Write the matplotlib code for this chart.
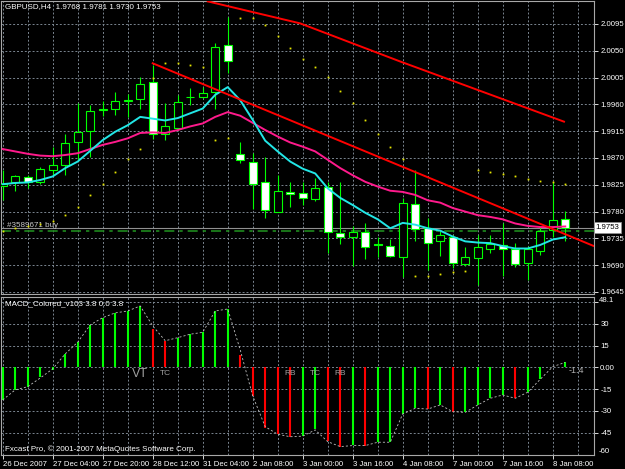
import matplotlib
matplotlib.use("Agg")
import matplotlib.pyplot as plt
import numpy as np

# GBPUSD H4 candles (bar 0 = 26 Dec 2007)
opens = [1.9823, 1.9829, 1.9838, 1.9830, 1.9850, 1.9859, 1.9897, 1.9915, 1.9951, 1.9952,
         1.9965, 1.9969, 1.9998, 1.9910, 1.9921, 1.9972, 1.9973, 1.9981, 2.0059, 1.9876,
         1.9864, 1.9829, 1.9780, 1.9813, 1.9811, 1.9801, 1.9821, 1.9744, 1.9737, 1.9745,
         1.9725, 1.9722, 1.9703, 1.9792, 1.9752, 1.9731, 1.9738, 1.9692, 1.9702, 1.9718,
         1.9724, 1.9718, 1.9693, 1.9714, 1.9749, 1.9768]
highs = [1.9850, 1.9841, 1.9841, 1.9855, 1.9888, 1.9910, 1.9962, 1.9959, 1.9966, 1.9980,
         1.9977, 2.0006, 2.0026, 1.9962, 1.9975, 1.9987, 1.9989, 2.0063, 2.0107, 1.9897,
         1.9878, 1.9872, 1.9841, 1.9830, 1.9830, 1.9836, 1.9830, 1.9829, 1.9756, 1.9760,
         1.9738, 1.9734, 1.9803, 1.9849, 1.9770, 1.9747, 1.9741, 1.9721, 1.9741, 1.9741,
         1.9760, 1.9727, 1.9722, 1.9754, 1.9829, 1.9781]
lows = [1.9799, 1.9815, 1.9820, 1.9826, 1.9841, 1.9841, 1.9867, 1.9872, 1.9941, 1.9942,
        1.9939, 1.9953, 1.9902, 1.9901, 1.9920, 1.9959, 1.9971, 1.9953, 2.0012, 1.9861,
        1.9784, 1.9770, 1.9779, 1.9787, 1.9791, 1.9797, 1.9711, 1.9725, 1.9689, 1.9700,
        1.9704, 1.9703, 1.9670, 1.9731, 1.9682, 1.9706, 1.9686, 1.9688, 1.9657, 1.9710,
        1.9671, 1.9687, 1.9665, 1.9707, 1.9738, 1.9730]
closes = [1.9826, 1.9839, 1.9830, 1.9851, 1.9858, 1.9895, 1.9914, 1.9949, 1.9952, 1.9965,
          1.9967, 1.9995, 1.9911, 1.9923, 1.9964, 1.9973, 1.9979, 2.0057, 2.0033, 1.9866,
          1.9826, 1.9782, 1.9815, 1.9809, 1.9803, 1.9820, 1.9745, 1.9737, 1.9745, 1.9721,
          1.9724, 1.9705, 1.9794, 1.9750, 1.9728, 1.9740, 1.9693, 1.9703, 1.9720, 1.9725,
          1.9717, 1.9692, 1.9717, 1.9748, 1.9766, 1.9753]

# moving averages as drawn (cyan fast, pink slow)
ma_fast = [1.9826, 1.9828, 1.9829, 1.9833, 1.9839, 1.9853, 1.9864, 1.9882, 1.9900, 1.9914,
           1.9925, 1.9939, 1.9936, 1.9933, 1.9937, 1.9945, 1.9953, 1.9976, 1.9989, 1.9967,
           1.9934, 1.9899, 1.9881, 1.9864, 1.9852, 1.9844, 1.9819, 1.9803, 1.9791, 1.9778,
           1.9767, 1.9752, 1.9761, 1.9758, 1.9752, 1.9748, 1.9738, 1.9730, 1.9728, 1.9727,
           1.9722, 1.9718, 1.9718, 1.9724, 1.9733, 1.9737]
ma_slow = [1.9885, 1.9881, 1.9877, 1.9874, 1.9873, 1.9875, 1.9878, 1.9885, 1.9892, 1.9897,
           1.9903, 1.9912, 1.9913, 1.9912, 1.9917, 1.9923, 1.9928, 1.9939, 1.9947, 1.9941,
           1.9929, 1.9917, 1.9906, 1.9896, 1.9889, 1.9881, 1.9867, 1.9853, 1.9841, 1.9830,
           1.9822, 1.9815, 1.9813, 1.9808, 1.9799, 1.9795, 1.9786, 1.9780, 1.9774, 1.9771,
           1.9767, 1.9760, 1.9756, 1.9754, 1.9754, 1.9755]

# parabolic SAR dots
sar = [1.9748, 1.9752, 1.9755, 1.9759, 1.9765, 1.9774, 1.9788, 1.9808, 1.9826, 1.9846,
       1.9868, 1.9885, 2.0004, 2.0029, 2.0029, 2.0026, 2.0023, 1.9900, 1.9903, 2.0105,
       2.0105, 2.0093, 2.0074, 2.0054, 2.0037, 2.0022, 2.0006, 1.9983, 1.9962, 1.9934,
       1.9910, 1.9889, 1.9868, 1.9671, 1.9671, 1.9675, 1.9678, 1.9681, 1.9850, 1.9846,
       1.9843, 1.9839, 1.9834, 1.9831, 1.9829, 1.9826]

# MACD_Colored histogram and its dashed line
macd = [-22.5, -15.6, -13.4, -6.9, -1.8, 9.0, 17.2, 29.2, 34.2, 37.7,
        38.8, 42.3, 26.2, 18.3, 20.4, 22.8, 24.1, 38.8, 40.2, 8.3,
        -19.8, -41.7, -46.2, -47.9, -47.5, -42.3, -50.8, -54.7, -53.6, -54.0,
        -51.7, -51.5, -32.2, -28.3, -28.8, -26.0, -30.8, -30.6, -26.0, -21.4,
        -19.1, -21.4, -17.2, -8.3, 0.4, 3.4]
signal = [-22.5, -15.6, -13.4, -7.4, -1.1, 9.2, 17.3, 29.2, 34.2, 37.5,
          38.8, 42.3, 28.5, 18.3, 20.4, 22.8, 24.1, 38.8, 40.2, 12.0,
          -19.8, -41.0, -46.2, -47.9, -47.5, -43.2, -51.3, -54.7, -54.0, -54.0,
          -51.7, -51.7, -32.2, -28.3, -28.8, -26.0, -30.6, -31.1, -26.0, -21.4,
          -19.1, -21.4, -17.2, -8.3, 0.4, 3.4]

# trend lines drawn on the chart (bar index, price)
trend1_x = [12.0, 47.3]
trend1_y = [2.0029, 1.9722]
trend2_x = [16.4, 23.8, 31.8, 44.9]
trend2_y = [2.0133, 2.0096, 2.0032, 1.9931]

price_ticks = [2.0095, 2.0050, 2.0005, 1.9960, 1.9915, 1.9870, 1.9825, 1.9780, 1.9735, 1.9690, 1.9645]
macd_ticks = [45, 30, 15, 0, -15, -30, -45]
macd_labels = ["", "30", "15", "0.00", "-15", "-30", "-45"]
date_labels = ["26 Dec 2007", "27 Dec 04:00", "27 Dec 20:00", "28 Dec 12:00", "31 Dec 04:00",
               "2 Jan 08:00", "3 Jan 00:00", "3 Jan 16:00", "4 Jan 08:00", "7 Jan 00:00",
               "7 Jan 16:00", "8 Jan 08:00"]
marks = [("VT", 11, 9), ("TC", 13, 6), ("RB", 23, 6), ("TC", 25, 6), ("RB", 27, 6)]

bid = 1.9753
order_price = 1.9748

LIME = "#00ff00"
GRID = "#7a8590"
FG = "white"

plt.rcParams["font.family"] = ["Liberation Sans", "DejaVu Sans"]
plt.rcParams["font.size"] = 5.6

W, H = 625, 469
fig = plt.figure(figsize=(W / 100, H / 100), dpi=100, facecolor="black")
ax = fig.add_axes([1 / W, 1 - 294 / H, 593 / W, 293 / H], facecolor="black")
ax2 = fig.add_axes([1 / W, 1 - 455 / H, 593 / W, 158.5 / H], facecolor="black")

x = np.arange(len(opens))
o, h, l, c = (np.array(v) for v in (opens, highs, lows, closes))
xlim = (-0.136, 47.3)

# ---- main price window ----
for p in price_ticks:
    ax.axhline(p, color=GRID, lw=0.7, ls=(0, (2, 2)), zorder=1)
for i in range(0, 48, 2):
    ax.axvline(i, color=GRID, lw=0.7, ls=(0, (2, 2)), zorder=1)

ax.axhline(bid, color="#909090", lw=0.8, zorder=2)
ax.axhline(order_price, color="#1e8a1e", lw=1.2, ls=(0, (6, 3, 2, 3)), zorder=2)

ax.vlines(x, l, h, color=LIME, lw=0.8, zorder=3)
bull = c >= o
bottom = np.minimum(o, c)
height = np.abs(c - o)
ax.bar(x[bull], height[bull], bottom=bottom[bull], width=0.62,
       facecolor="black", edgecolor=LIME, lw=0.8, zorder=4)
ax.bar(x[~bull], height[~bull], bottom=bottom[~bull], width=0.62,
       facecolor="white", edgecolor=LIME, lw=0.8, zorder=4)

ax.plot(x, ma_slow, color="#ff1a8c", lw=1.4, zorder=5)
ax.plot(x, ma_fast, color="#22e6e6", lw=1.4, zorder=5)
ax.plot(trend1_x, trend1_y, color="#ff0000", lw=1.4, zorder=6)
ax.plot(trend2_x, trend2_y, color="#ff0000", lw=1.4, zorder=6)
ax.plot(x, sar, ls="none", marker="s", ms=1.3, mew=0, color="#e6e600", zorder=7)

ax.set_xlim(*xlim)
ax.set_ylim(1.96416, 2.01336)
ax.yaxis.tick_right()
ax.set_yticks(price_ticks)
ax.set_yticklabels([f"{p:.4f}" for p in price_ticks])
ax.tick_params(axis="y", colors=FG, length=3, width=0.6, pad=1.5, labelsize=5.6)
ax.set_xticks([])
for s in ax.spines.values():
    s.set_color("#a8a8a8")
    s.set_linewidth(0.8)

ax.text(0.007, 0.993, "GBPUSD,H4  1.9768 1.9781 1.9730 1.9753", transform=ax.transAxes,
        color=FG, ha="left", va="top", fontsize=5.8)
ax.text(0.35, 1.9757, "#3589671 buy", color="#c8c8c8", ha="left", va="center", fontsize=5.8)
ax.text(1.003, bid, f"{bid:.4f}", transform=ax.get_yaxis_transform(), color="black",
        ha="left", va="center", fontsize=5.6, zorder=10, clip_on=False,
        bbox=dict(boxstyle="square,pad=0.25", facecolor="white", edgecolor="#909090", lw=0.6))

# ---- MACD window ----
for v in macd_ticks:
    ax2.axhline(v, color=GRID, lw=0.7, ls=(0, (2, 2)), zorder=1)
for i in range(0, 48, 2):
    ax2.axvline(i, color=GRID, lw=0.7, ls=(0, (2, 2)), zorder=1)

m = np.array(macd)
rising = np.concatenate([[True], np.diff(m) > 0])
ax2.vlines(x[rising], 0, m[rising], color=LIME, lw=1.5, zorder=3)
ax2.vlines(x[~rising], 0, m[~rising], color="#ff0000", lw=1.5, zorder=3)
ax2.plot(x, signal, color="#c0c0c0", lw=0.6, ls=(0, (2.5, 2.5)), zorder=4)

for txt, i, fs in marks:
    ax2.text(i, -4.5, txt, color="#a0a0a0", ha="center", va="center", fontsize=fs)
ax2.text(45.3, -2.3, "-1.4", color="#b0b0b0", ha="left", va="center", fontsize=6.5)

ax2.set_xlim(*xlim)
ax2.set_ylim(-60.5, 48.8)
ax2.yaxis.tick_right()
ax2.set_yticks(macd_ticks)
ax2.set_yticklabels(macd_labels)
ax2.tick_params(axis="y", colors=FG, length=3, width=0.6, pad=1.5, labelsize=5.6)
ax2.set_xticks(range(0, 4 * len(date_labels), 4))
ax2.set_xticklabels(date_labels, ha="left")
ax2.tick_params(axis="x", colors=FG, length=3, width=0.6, pad=1, labelsize=5.6)
for s in ax2.spines.values():
    s.set_color("#a8a8a8")
    s.set_linewidth(0.8)

ax2.text(1.008, 1.0, "48.1", transform=ax2.transAxes, color=FG, ha="left", va="top", fontsize=5.6)
ax2.text(1.008, 0.0, "-60", transform=ax2.transAxes, color=FG, ha="left", va="bottom", fontsize=5.6)
ax2.text(0.007, 0.975, "MACD_Colored_v103 3.8 0.0 3.8", transform=ax2.transAxes,
         color=FG, ha="left", va="top", fontsize=5.8)
ax2.text(0.006, 0.015, "Fxcast Pro, \u00a9 2001-2007 MetaQuotes Software Corp.", transform=ax2.transAxes,
         color=FG, ha="left", va="bottom", fontsize=5.8)

fig.savefig("out.png", dpi=100, facecolor="black")
